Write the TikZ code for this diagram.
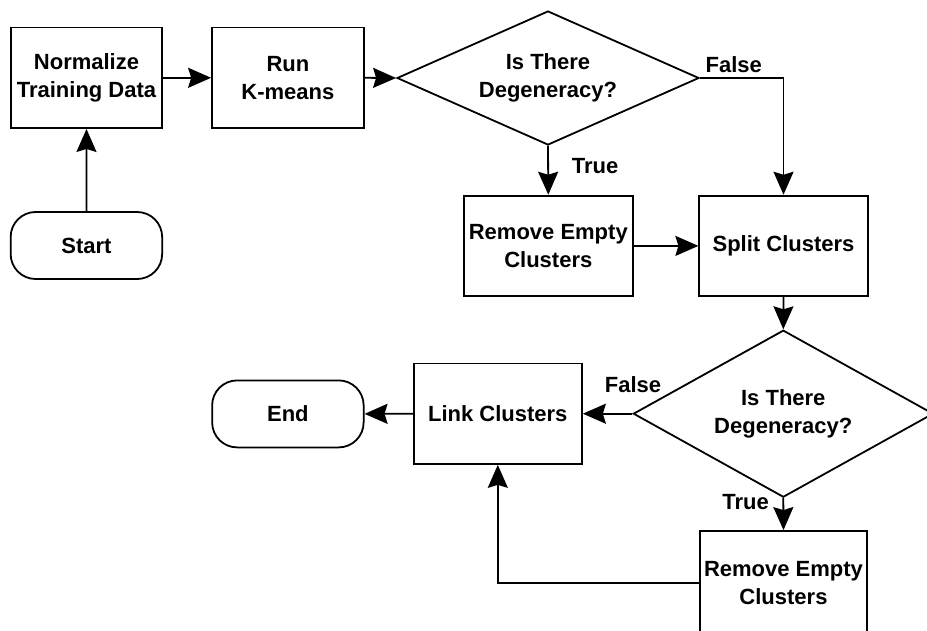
\documentclass[tikz,border=0pt]{standalone}
\usepackage{fontspec}
\setmainfont{Liberation Sans}
\usetikzlibrary{shapes.geometric,arrows.meta}
\begin{document}
\begin{tikzpicture}[x=1pt,y=-1pt,
  every node/.style={font=\fontsize{22}{28}\selectfont\bfseries, align=center, inner sep=0pt},
  box/.style={draw, rectangle, line width=1.8pt, minimum width=#1, minimum height=100.5pt},
  box/.default=168.4pt,
  term/.style={draw, rectangle, rounded corners=25pt, line width=1.8pt, minimum width=151.5pt, minimum height=67pt},
  decide/.style={draw, diamond, line width=1.8pt, aspect=2},
  lbl/.style={},
  conn/.style={line width=1.8pt, -{Stealth[length=23pt,width=20pt,inset=3pt]}},
  link/.style={line width=1.8pt}
]
\useasboundingbox (0,0) rectangle (927,630);
\clip (0,0) rectangle (927,630);
\fill[white] (0,0) rectangle (927,630);

\node[box=151.6pt] (norm) at (86.5,77.8) {Normalize\\Training Data};
\node[box=151.7pt] (run) at (287.9,77.8) {Run\\K-means};
\node[term] (start) at (86.4,245.5) {Start};
\node[decide, minimum width=302pt, minimum height=134pt] (d1) at (548,78) {Is There\\Degeneracy?};
\node[box=168.7pt] (re1) at (548.3,245.9) {Remove Empty\\Clusters};
\node[box] (split) at (783.5,245.9) {Split Clusters};
\node[decide, minimum width=300pt, minimum height=167pt] (d2) at (783.3,413.7) {Is There\\Degeneracy?};
\node[box=168.3pt] (link) at (497.8,413.7) {Link Clusters};
\node[term] (endn) at (287.9,413.9) {End};
\node[box=167.6pt, minimum height=104pt] (re2) at (783.5,583) {Remove Empty\\Clusters};

\node[lbl] (lf1) at (733.7,65) {False};
\node[lbl] (lt1) at (595,165.7) {True};
\node[lbl] (lf2) at (633,385) {False};
\node[lbl] (lt2) at (745.5,501.7) {True};

\draw[conn] (start.north) -- (norm.south);
\draw[conn] (norm.east) -- (run.west);
\draw[conn] (run.east) -- (d1.west);
\draw[conn] (d1.south) -- (re1.north);
\draw[conn] (d1.east) -| (split.north);
\draw[conn] (re1.east) -- (split.west);
\draw[conn] (split.south) -- (d2.north);
\draw[conn] (d2.west) -- (link.east);
\draw[conn] (d2.south) -- (re2.north);
\draw[conn] (link.west) -- (endn.east);
\draw[conn] (re2.west) -| (link.south);
\end{tikzpicture}
\end{document}
